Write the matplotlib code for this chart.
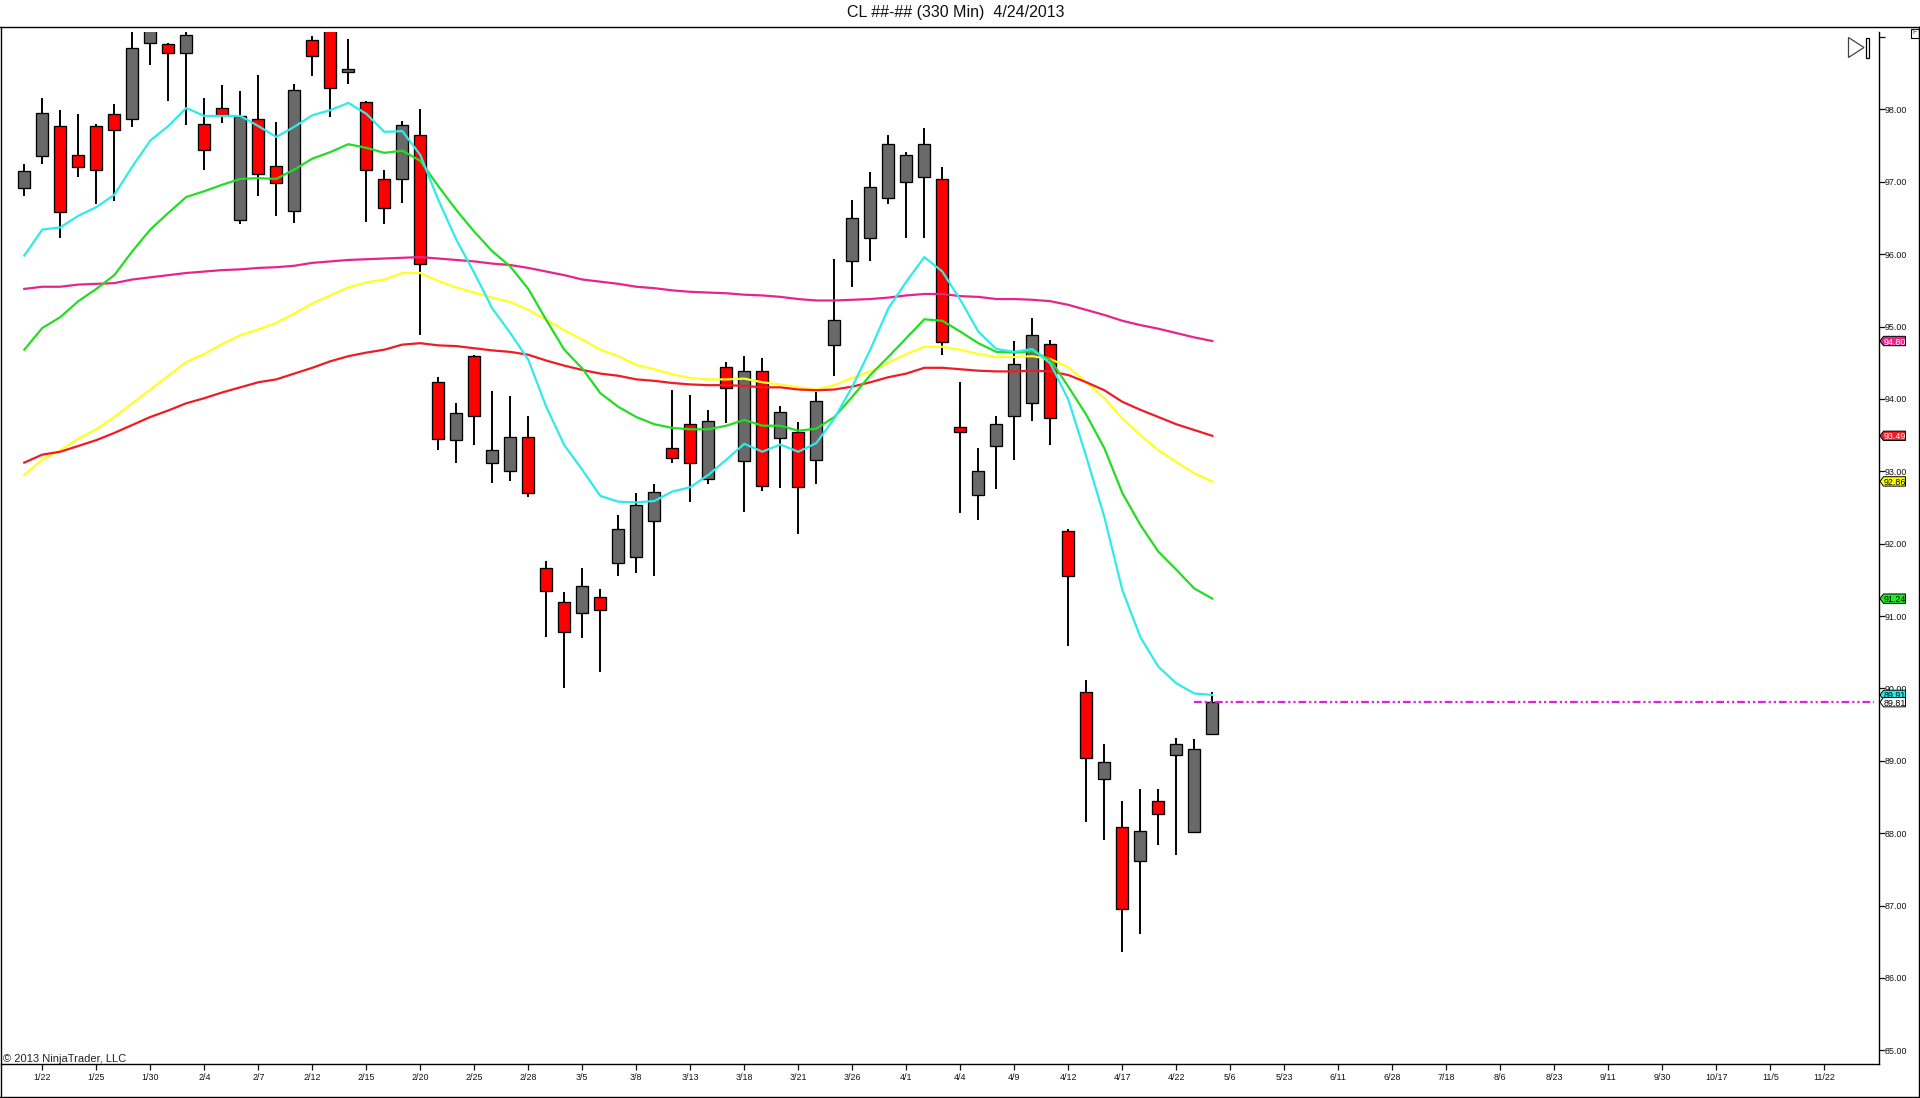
import numpy as np
import matplotlib
matplotlib.use('Agg')
from matplotlib import pyplot as plt
from matplotlib.patches import Polygon, Rectangle
from matplotlib.lines import Line2D
from matplotlib.transforms import IdentityTransform

plt.rcParams['font.family'] = ['Liberation Sans', 'DejaVu Sans']

# candles, 1 = red (down), 0 = gray (up)
is_red = [0,0,1,1,1,1,0,0,1,0,1,1,0,1,1,0,1,1,0,1,1,0,1,
          1,0,1,0,0,1,1,1,0,1,0,0,0,1,1,0,1,0,1,0,1,0,
          0,0,0,0,0,0,1,1,0,0,0,0,1,1,1,0,1,0,1,0,0,0]
high = [97.24,98.16,97.99,97.94,97.80,98.07,99.20,99.40,98.92,99.07,98.16,98.34,98.25,98.47,97.82,98.35,99.01,99.50,98.97,98.12,97.16,97.84,98.00,
        94.30,93.94,94.60,94.11,94.04,93.77,91.76,91.33,91.66,91.38,92.39,92.70,92.82,94.13,94.06,93.84,94.51,94.59,94.56,93.90,93.68,94.09,
        95.94,96.75,97.13,97.65,97.41,97.74,97.20,94.23,93.32,93.76,94.80,95.12,94.81,92.20,90.12,89.23,88.44,88.61,88.61,89.31,89.30,89.95]
body_top = [97.15,97.95,97.77,97.37,97.77,97.94,98.85,99.20,98.90,99.03,97.80,98.02,97.91,97.87,97.22,98.27,98.96,99.40,98.56,98.10,97.04,97.78,97.65,
            94.23,93.80,94.59,93.30,93.47,93.47,91.66,91.20,91.42,91.26,92.20,92.54,92.72,93.32,93.66,93.69,94.44,94.38,94.38,93.82,93.54,93.97,
            95.09,96.50,96.93,97.52,97.37,97.52,97.04,93.61,93.00,93.65,94.48,94.88,94.76,92.18,89.95,88.98,88.08,88.03,88.45,89.23,89.16,89.81]
body_bot = [96.92,97.35,96.58,97.20,97.16,97.71,97.87,98.92,98.78,98.78,97.44,97.92,96.47,97.11,96.98,96.59,98.74,98.29,98.52,97.16,96.64,97.04,95.86,
            93.44,93.43,93.76,93.11,93.01,92.70,91.34,90.78,91.04,91.08,91.73,91.81,92.31,93.18,93.12,92.89,94.15,93.14,92.79,93.46,92.78,93.15,
            94.74,95.90,96.22,96.77,97.00,97.06,94.78,93.54,92.67,93.35,93.77,93.94,93.73,91.55,89.04,88.75,86.95,87.61,88.27,89.08,88.01,89.37]
low = [96.80,97.24,96.22,97.07,96.70,96.74,97.76,98.61,98.11,97.78,97.16,97.81,96.42,96.81,96.53,96.43,98.46,97.90,98.35,96.45,96.42,96.71,94.89,
       93.30,93.12,93.37,92.84,92.86,92.65,90.71,90.00,90.69,90.22,91.56,91.59,91.56,93.11,92.58,92.83,93.67,92.44,92.73,92.77,92.14,92.83,
       94.31,95.55,95.90,96.69,96.23,96.22,94.60,92.43,92.32,92.76,93.16,93.70,93.37,90.58,88.16,87.90,86.36,86.60,87.83,87.70,88.01,89.37]

# moving averages
ma_cyan = [95.98,96.34,96.37,96.53,96.65,96.82,97.21,97.57,97.77,98.02,97.91,97.91,97.91,97.77,97.62,97.76,97.92,97.99,98.09,97.94,97.69,97.70,97.37,
           96.75,96.20,95.74,95.25,94.91,94.54,93.89,93.36,93.02,92.66,92.58,92.57,92.59,92.72,92.78,92.95,93.16,93.38,93.27,93.37,93.27,93.39,
           93.73,94.17,94.68,95.25,95.62,95.96,95.76,95.37,94.93,94.69,94.65,94.69,94.49,93.99,93.20,92.37,91.36,90.71,90.30,90.07,89.93,89.91]
ma_green = [94.68,94.98,95.13,95.35,95.52,95.71,96.04,96.34,96.57,96.79,96.87,96.96,97.04,97.05,97.04,97.17,97.32,97.41,97.52,97.47,97.40,97.43,97.29,
            96.94,96.61,96.31,96.04,95.83,95.52,95.09,94.68,94.42,94.08,93.89,93.75,93.65,93.60,93.58,93.58,93.63,93.71,93.63,93.63,93.56,93.59,
            93.75,94.03,94.33,94.58,94.84,95.10,95.08,94.93,94.77,94.65,94.64,94.66,94.54,94.17,93.78,93.32,92.70,92.26,91.89,91.64,91.38,91.24]
ma_magenta = [95.52,95.55,95.55,95.58,95.59,95.60,95.65,95.68,95.71,95.74,95.76,95.78,95.79,95.81,95.82,95.84,95.88,95.90,95.92,95.93,95.94,95.95,95.96,
              95.94,95.92,95.90,95.87,95.85,95.81,95.76,95.71,95.65,95.62,95.59,95.55,95.53,95.50,95.48,95.47,95.46,95.44,95.43,95.41,95.38,95.36,
              95.36,95.37,95.38,95.40,95.43,95.45,95.45,95.42,95.41,95.38,95.38,95.37,95.35,95.30,95.23,95.16,95.08,95.02,94.97,94.91,94.85,94.80]
ma_yellow = [92.95,93.16,93.29,93.45,93.58,93.75,93.94,94.13,94.32,94.51,94.62,94.76,94.88,94.96,95.05,95.18,95.32,95.43,95.54,95.61,95.65,95.74,95.74,
             95.63,95.54,95.47,95.40,95.34,95.23,95.09,94.95,94.82,94.68,94.59,94.47,94.41,94.34,94.29,94.27,94.27,94.28,94.23,94.20,94.16,94.13,
             94.19,94.29,94.38,94.50,94.62,94.72,94.72,94.68,94.62,94.58,94.58,94.59,94.55,94.44,94.23,94.01,93.73,93.50,93.29,93.13,92.97,92.86]
ma_red = [93.12,93.23,93.27,93.35,93.43,93.53,93.64,93.75,93.84,93.94,94.01,94.09,94.16,94.23,94.27,94.35,94.43,94.52,94.59,94.64,94.68,94.75,94.77,
          94.74,94.73,94.70,94.67,94.65,94.61,94.53,94.46,94.40,94.35,94.32,94.27,94.25,94.22,94.20,94.19,94.19,94.18,94.16,94.16,94.13,94.12,
          94.13,94.17,94.23,94.30,94.35,94.43,94.43,94.41,94.39,94.38,94.38,94.39,94.38,94.33,94.23,94.12,93.96,93.85,93.75,93.65,93.57,93.49]

date_labels = ['1/22','1/25','1/30','2/4','2/7','2/12','2/15','2/20','2/25','2/28','3/5','3/8',
               '3/13','3/18','3/21','3/26','4/1','4/4','4/9','4/12','4/17','4/22','5/6','5/23',
               '6/11','6/28','7/18','8/6','8/23','9/11','9/30','10/17','11/5','11/22']
price_ticks = [85,86,87,88,89,90,91,92,93,94,95,96,97,98,99]
last_price = 89.81

RED, GRAY = '#ff0000', '#696969'
C_CYAN, C_GREEN, C_YELLOW, C_RED, C_MAGENTA = '#30eaea', '#22dd22', '#ffff22', '#ee1c25', '#e6258c'

W, H = 1920, 1098
fig = plt.figure(figsize=(W/100, H/100), dpi=100)
ax = fig.add_axes([1/W, (H-1064)/H, 1877.7/W, 1032/H])

x = np.arange(len(high))
ax.vlines(x, low, high, color='black', lw=1.4, zorder=2)
colors = [RED if r else GRAY for r in is_red]
ax.bar(x, np.array(body_top)-np.array(body_bot), bottom=body_bot, width=0.68,
       color=colors, edgecolor='black', linewidth=0.95, zorder=3)

for series, col in [(ma_magenta, C_MAGENTA), (ma_yellow, C_YELLOW), (ma_red, C_RED),
                    (ma_green, C_GREEN), (ma_cyan, C_CYAN)]:
    ax.plot(x, series, color=col, lw=1.6, zorder=4)

ax.plot([65, 102.76], [last_price, last_price], color='#e020e0', lw=1.6,
        ls=(0, (3.5, 1.3, 1, 1.3, 1, 1.3)), zorder=5)

ax.set_xlim(-1.294, 103.02)
ax.set_ylim(84.81, 99.07)
ax.spines['top'].set_visible(False)
ax.spines['left'].set_visible(False)
for s in ['right', 'bottom']:
    ax.spines[s].set_linewidth(1.0)

ax.set_xticks(np.arange(len(date_labels))*3+1, date_labels)
ax.yaxis.tick_right()
ax.set_yticks(price_ticks, ['%.2f' % p if p < 99 else '' for p in price_ticks])
ax.tick_params(axis='both', length=4.3, width=0.9, labelsize=6.4, pad=1, colors='#111111')
ax.tick_params(axis='y', pad=0.3)
ax.tick_params(axis='x', pad=2.2)

ident = IdentityTransform()

def add_tag(val, face, txt_col, text):
    # price tag on the axis, in pixels
    yp = ax.transData.transform((0, val))[1]
    pts = [(1880, yp), (1883.5, yp+4.7), (1905.5, yp+4.7), (1905.5, yp-4.7), (1883.5, yp-4.7)]
    fig.add_artist(Polygon(pts, closed=True, facecolor=face, edgecolor='black', lw=0.7, transform=ident))
    fig.text(1894.5/W, yp/H, text, color=txt_col, fontsize=6.4, ha='center', va='center_baseline')

add_tag(94.80, C_MAGENTA, 'white', '94.80')
add_tag(93.49, C_RED, 'white', '93.49')
add_tag(92.86, '#ffff00', 'black', '92.86')
add_tag(91.24, '#22ee22', 'black', '91.24')
add_tag(89.91, '#20f0f0', 'black', '89.91')
add_tag(89.81, 'white', 'black', '89.81')

# outer frame
fy = lambda y: H - y
for xs, ys in [([0, W], [27, 27]), ([0.5, 0.5], [27, 1097]), ([1919, 1919], [27, 1097]), ([0, W], [1097, 1097])]:
    fig.add_artist(Line2D(xs, [fy(v) for v in ys], color='black', lw=1.0, transform=ident))

# skip-to-end button and the small box at top right
fig.add_artist(Polygon([(1848.5, fy(37.5)), (1864, fy(47.5)), (1848.5, fy(57.5))], closed=True,
                       facecolor='white', edgecolor='#444444', lw=0.9, transform=ident))
fig.add_artist(Rectangle((1865.5, fy(57.5)), 3.5, 20, facecolor='white', edgecolor='black', lw=0.9, transform=ident))
fig.add_artist(Rectangle((1910.5, fy(37.5)), 8, 8.5, facecolor='white', edgecolor='black', lw=0.8, transform=ident))
fig.text(1914.5/W, fy(33)/H, 'F', fontsize=5, ha='center', va='center', color='#444444')

fig.text(956/W, fy(13)/H, 'CL ##-## (330 Min)  4/24/2013', fontsize=11.5, ha='center', va='center', color='#111111')
fig.text(3/W, fy(1062)/H, '\u00a9 2013 NinjaTrader, LLC', fontsize=8, ha='left', va='baseline', color='#222222')

fig.savefig('out.png', dpi=100)
